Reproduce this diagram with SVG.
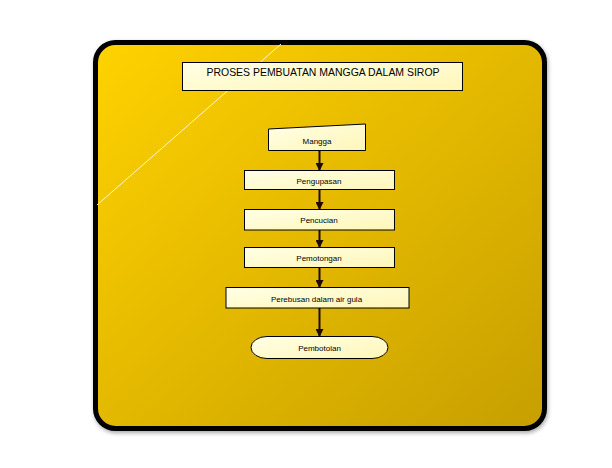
<svg xmlns="http://www.w3.org/2000/svg" width="612" height="468" viewBox="0 0 612 468">
<defs>
<linearGradient id="bg" x1="0" y1="0" x2="1" y2="1">
<stop offset="0" stop-color="#FFD200"/>
<stop offset="1" stop-color="#C79F00"/>
</linearGradient>
<linearGradient id="box" x1="0" y1="0" x2="1" y2="1">
<stop offset="0" stop-color="#FFFFE6"/>
<stop offset="1" stop-color="#FFF6B8"/>
</linearGradient>
<marker id="arr" markerWidth="8" markerHeight="8" refX="7" refY="4" orient="auto" markerUnits="userSpaceOnUse">
<path d="M0,0 L8,4 L0,8 Z" fill="#1a0d00"/>
</marker>
<filter id="sh" x="-5%" y="-5%" width="110%" height="110%">
<feGaussianBlur in="SourceAlpha" stdDeviation="2"/>
<feOffset dx="1" dy="2" result="b"/>
<feComponentTransfer><feFuncA type="linear" slope="0.35"/></feComponentTransfer>
<feMerge><feMergeNode/><feMergeNode in="SourceGraphic"/></feMerge>
</filter>
</defs>
<style>
.n{fill:url(#box);stroke:#000;stroke-width:1}
.t{font-family:"Liberation Sans",Arial,sans-serif;font-size:8px;fill:#000;text-anchor:middle}
.c{stroke:#1a0d00;stroke-width:2;fill:none;marker-end:url(#arr)}
</style>
<rect width="612" height="468" fill="#fff"/>
<g id="frame">
<rect x="95.5" y="42.5" width="449" height="386" rx="20" fill="url(#bg)" stroke="#000" stroke-width="5" filter="url(#sh)"/>
<line x1="281" y1="44" x2="97" y2="205" stroke="#FFF8C0" stroke-width="1"/>
</g>
<g id="title">
<rect class="n" x="182.5" y="62.5" width="280" height="28"/>
<text x="323" y="76" font-family="Liberation Sans, Arial, sans-serif" font-size="10.5" text-anchor="middle" textLength="233" lengthAdjust="spacingAndGlyphs">PROSES PEMBUATAN MANGGA DALAM SIROP</text>
</g>
<g id="connectors">
<line class="c" x1="319.5" y1="150" x2="319.5" y2="170"/>
<line class="c" x1="319.5" y1="189" x2="319.5" y2="209"/>
<line class="c" x1="319.5" y1="230" x2="319.5" y2="247"/>
<line class="c" x1="319.5" y1="267" x2="319.5" y2="287"/>
<line class="c" x1="319.5" y1="308" x2="319.5" y2="336"/>
</g>
<g id="mangga">
<path class="n" d="M268.5,129 L365.5,124 L365.5,150.5 L268.5,150.5 Z"/>
<text class="t" x="317" y="144">Mangga</text>
</g>
<g id="pengupasan">
<rect class="n" x="244.5" y="170.5" width="150" height="19"/>
<text class="t" x="319" y="184">Pengupasan</text>
</g>
<g id="pencucian">
<rect class="n" x="244.5" y="209.5" width="150" height="20.5"/>
<text class="t" x="319" y="223">Pencucian</text>
</g>
<g id="pemotongan">
<rect class="n" x="244.5" y="247.5" width="150" height="20"/>
<text class="t" x="319" y="261">Pemotongan</text>
</g>
<g id="perebusan">
<rect class="n" x="226" y="287.5" width="183" height="20.5"/>
<text class="t" x="316.5" y="302">Perebusan dalam air gula</text>
</g>
<g id="pembotolan">
<rect class="n" x="251" y="336.5" width="137" height="22" rx="16" ry="11"/>
<text class="t" x="319.5" y="350.5">Pembotolan</text>
</g>
</svg>
